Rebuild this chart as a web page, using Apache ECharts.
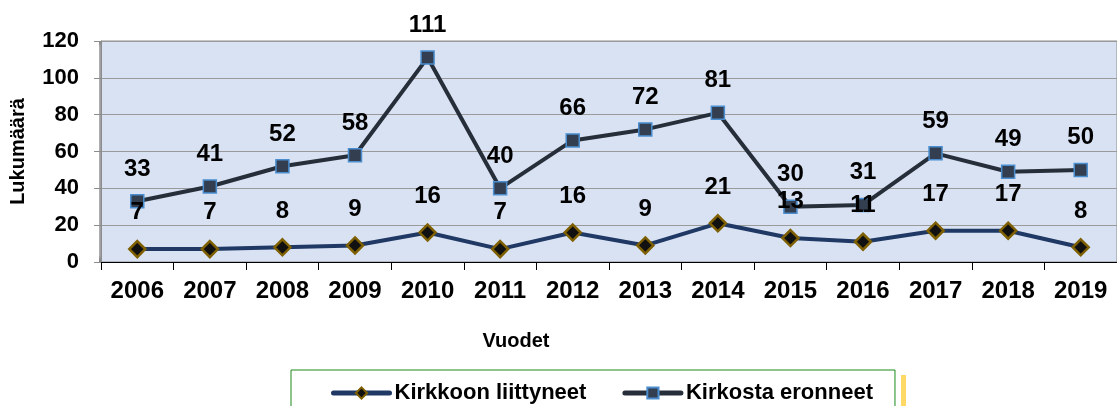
<!DOCTYPE html>
<html>
<head>
<meta charset="utf-8">
<script src="https://cdn.jsdelivr.net/npm/echarts@6/dist/echarts.min.js"></script>
<style>
html, body { margin: 0; padding: 0; background: #fff; }
#chart { width: 1117px; height: 406px; }
</style>
</head>
<body>
<div id="chart"></div>
<script>
var years = ['2006', '2007', '2008', '2009', '2010', '2011', '2012', '2013', '2014', '2015', '2016', '2017', '2018', '2019'];
var liittyneet = [7, 7, 8, 9, 16, 7, 16, 9, 21, 13, 11, 17, 17, 8];
var eronneet = [33, 41, 52, 58, 111, 40, 66, 72, 81, 30, 31, 59, 49, 50];

var font = 'Liberation Sans, Arial, sans-serif';
var chart = echarts.init(document.getElementById('chart'));

// plot area edges (bevel look)
function edge(x, y, w, h, gx, gy, gx2, gy2) {
	return {
		type: 'rect', silent: true, z: -1,
		shape: { x: x, y: y, width: w, height: h },
		style: {
			fill: new echarts.graphic.LinearGradient(gx, gy, gx2, gy2, [
				{ offset: 0, color: 'rgba(60,60,70,0.45)' },
				{ offset: 1, color: 'rgba(60,60,70,0)' }
			])
		}
	};
}

chart.setOption({
	animation: false,
	title: {
		text: 'Vuodet',
		left: 511,
		top: 326,
		textAlign: 'center',
		textStyle: { fontFamily: font, fontWeight: 'bold', fontSize: 20, color: '#000' }
	},
	legend: {
		left: 291,
		top: 370,
		padding: [12, 22, 20, 40],
		borderColor: '#1a8a1a',
		borderWidth: 1,
		itemWidth: 56,
		itemHeight: 14,
		itemGap: 36,
		lineStyle: { width: 5, cap: 'round' },
		textStyle: { fontFamily: font, fontWeight: 'bold', fontSize: 22, color: '#000' },
		data: ['Kirkkoon liittyneet', 'Kirkosta eronneet']
	},
	graphic: [
		{ type: 'rect', shape: { x: 901, y: 375, width: 5, height: 35 }, style: { fill: '#ffd966' } },
		edge(99, 41, 10, 221, 0, 0, 1, 0),
		edge(99, 41, 1018, 6, 0, 0, 0, 1),
		edge(1103, 41, 10, 221, 1, 0, 0, 0),
		edge(99, 255, 1014, 7, 0, 1, 0, 0)
	],
	grid: {
		left: 99,
		right: 0,
		top: 41,
		bottom: 144,
		show: true,
		backgroundColor: '#d9e2f3',
		borderColor: '#8c8c8c',
		borderWidth: 1
	},
	xAxis: {
		type: 'category',
		data: years,
		axisLine: { lineStyle: { color: '#000', width: 1 } },
		axisTick: { show: true, length: 8, lineStyle: { color: '#000' } },
		axisLabel: { fontFamily: font, fontWeight: 'bold', fontSize: 24, color: '#000', margin: 17 }
	},
	yAxis: {
		type: 'value',
		min: 0,
		max: 120,
		interval: 20,
		name: 'Lukumäärä',
		nameLocation: 'middle',
		nameGap: 73,
		nameTextStyle: { fontFamily: font, fontWeight: 'bold', fontSize: 20, color: '#000' },
		axisLine: { show: true, lineStyle: { color: '#8c8c8c' } },
		axisTick: { show: true, length: 7, lineStyle: { color: '#8c8c8c' } },
		axisLabel: { fontFamily: font, fontWeight: 'bold', fontSize: 22, color: '#000', margin: 22 },
		splitLine: { lineStyle: { color: '#9a9a9a', width: 1 } }
	},
	series: [
		{
			name: 'Kirkkoon liittyneet',
			type: 'line',
			data: liittyneet,
			symbol: 'diamond',
			symbolSize: 16,
			color: '#1f3864',
			lineStyle: { color: '#1f3864', width: 4 },
			itemStyle: { color: '#111', borderColor: '#7f6000', borderWidth: 2.5 },
			label: {
				show: true, position: 'top', distance: 15,
				fontFamily: font, fontWeight: 'bold', fontSize: 24, color: '#000'
			},
			z: 3
		},
		{
			name: 'Kirkosta eronneet',
			type: 'line',
			data: eronneet,
			symbol: 'rect',
			symbolSize: 13,
			color: '#262e3a',
			lineStyle: { color: '#262e3a', width: 4 },
			itemStyle: { color: '#333f50', borderColor: '#4a8ed0', borderWidth: 1.5 },
			label: {
				show: true, position: 'top', distance: 13,
				fontFamily: font, fontWeight: 'bold', fontSize: 24, color: '#000'
			},
			z: 2
		}
	]
});
</script>
</body>
</html>
